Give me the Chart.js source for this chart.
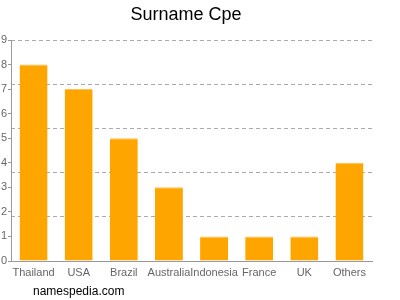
<!DOCTYPE html>
<html><head><meta charset="utf-8">
<script src="https://cdn.jsdelivr.net/npm/chart.js@4"></script>
<style>html,body{margin:0;padding:0;background:#fff}#w{position:relative;width:400px;height:300px}
#src{position:absolute;left:33px;top:284px;font:12px "Liberation Sans",Arial,sans-serif;color:#000}</style>
</head><body><div id="w"><canvas id="c" width="400" height="300"></canvas><div id="src">namespedia.com</div></div>
<script>
const categories = ["Thailand","USA","Brazil","Australia","Indonesia","France","UK","Others"];
const counts = [8,7,5,3,1,1,1,4];
const yMax = 9;
const gridStep = 1.8;
const FONT = '"Liberation Sans", Arial, sans-serif';
new Chart(document.getElementById('c'), {
  type: 'bar',
  data: { labels: categories, datasets: [{ data: counts, backgroundColor: '#FFA500',
    borderColor: '#FFC04D', borderWidth: {top:1,left:0,right:0,bottom:0}, borderSkipped: 'bottom',
    categoryPercentage: 1, barPercentage: 0.62 }] },
  options: {
    responsive: false, animation: false,
    layout: { padding: { left: 0, right: 28, top: 0, bottom: 0 } },
    plugins: {
      legend: { display: false }, tooltip: { enabled: false },
      title: { display: true, text: 'Surname Cpe', color: '#000', font: { family: FONT, size: 18, weight: 'normal' }, padding: { top: 4, bottom: 14.4 } }
    },
    scales: {
      x: { grid: { display: false }, border: { color: '#999' },
        ticks: { color: '#666', font: { family: FONT, size: 11 }, maxRotation: 0, autoSkip: false, padding: -3 },
        afterFit: s => { s.height = 39; } },
      y: { position: 'left', min: 0, max: yMax, ticks: { stepSize: 1, color: '#666', font: { family: FONT, size: 11 }, padding: 1 },
        grid: { drawOnChartArea: false, drawTicks: true, tickLength: 3, color: '#999' }, border: { color: '#999' },
        afterFit: s => { s.width = 11; } },
      g: { position: 'left', min: 0, max: yMax, ticks: { stepSize: gridStep, display: false },
        grid: { drawTicks: false, color: '#aaa' }, border: { display: false, dash: [4,3] },
        afterFit: s => { s.width = 0; } }
    }
  }
});
</script></body></html>
